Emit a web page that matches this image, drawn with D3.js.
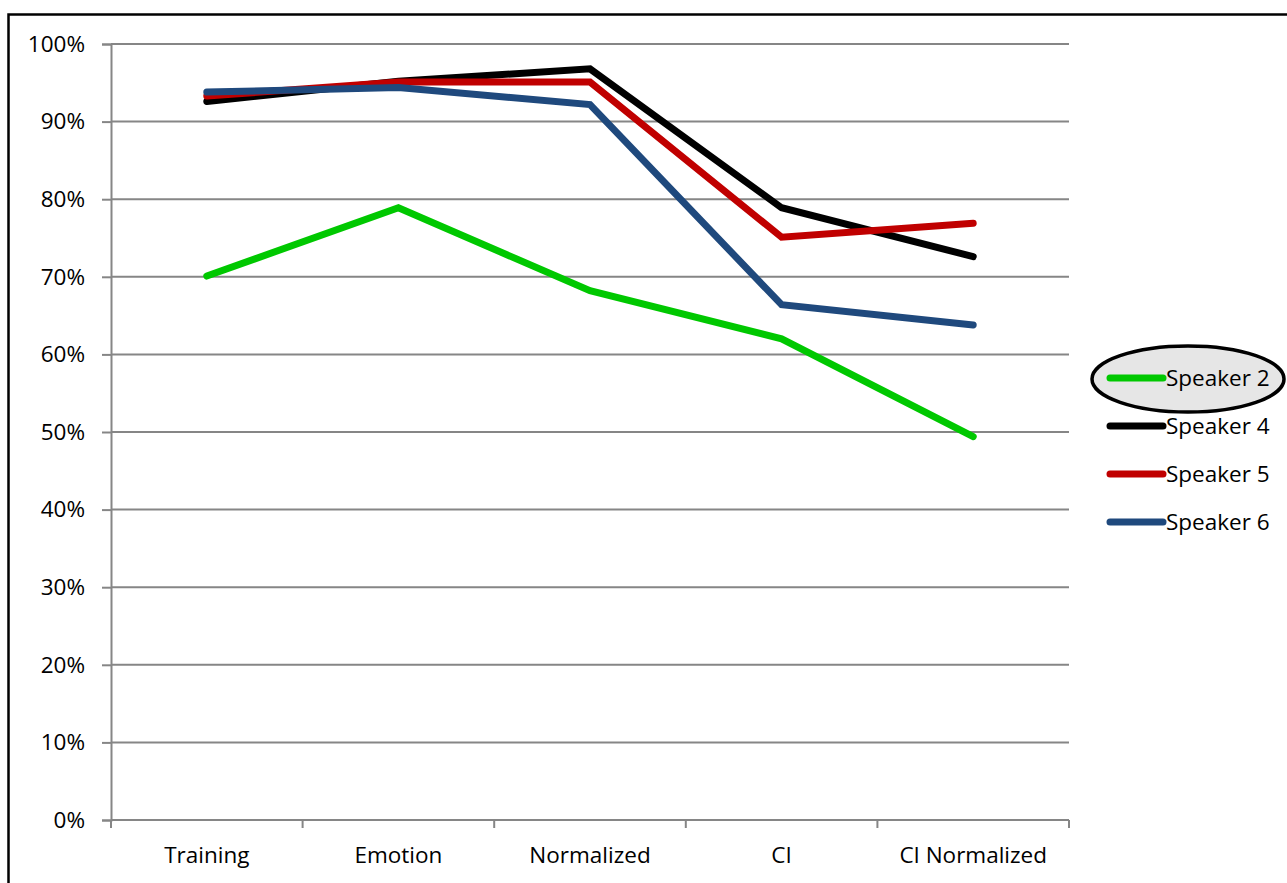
<!DOCTYPE html>
<html>
<head>
<meta charset="utf-8">
<script src="https://cdn.jsdelivr.net/npm/d3@7"></script>
<style>
  html, body { margin: 0; padding: 0; background: #fff; overflow: hidden; }
  svg { display: block; font-family: "Open Sans", Lato, sans-serif; }
</style>
</head>
<body>
<svg id="chart" width="1287" height="883"></svg>
<script>
// Recognition accuracy per condition, one series per speaker
const categories = ["Training", "Emotion", "Normalized", "CI", "CI Normalized"];
const speaker2 = [0.701, 0.789, 0.682, 0.620, 0.494];
const speaker4 = [0.926, 0.952, 0.968, 0.789, 0.726];
const speaker5 = [0.933, 0.951, 0.951, 0.751, 0.769];
const speaker6 = [0.938, 0.944, 0.922, 0.664, 0.638];
const seriesNames = ["Speaker 2", "Speaker 4", "Speaker 5", "Speaker 6"];
const seriesColors = ["#00c800", "#000000", "#c00000", "#1f497d"];
const yTicks = [0, 0.1, 0.2, 0.3, 0.4, 0.5, 0.6, 0.7, 0.8, 0.9, 1.0];

const series = [speaker2, speaker4, speaker5, speaker6].map((vals, i) => ({
  name: seriesNames[i], color: seriesColors[i], values: vals
}));

const svg = d3.select("#chart");
const fontFam = "'Open Sans', Lato, sans-serif";
const fontSize = "22.5px";

// Outer frame
svg.append("rect")
  .attr("x", 8.5).attr("y", 14.5)
  .attr("width", 1300).attr("height", 900)
  .attr("fill", "#fff").attr("stroke", "#000").attr("stroke-width", 2.5);

const plot = { left: 111, right: 1069, top: 44, bottom: 820 };

const x = d3.scaleBand().domain(categories).range([plot.left, plot.right]).padding(0);
const y = d3.scaleLinear().domain([0, 1]).range([plot.bottom, plot.top]);

const grid = "#868686";

// Horizontal gridlines
svg.append("g").selectAll("line").data(yTicks.slice(1)).join("line")
  .attr("x1", plot.left).attr("x2", plot.right)
  .attr("y1", d => y(d)).attr("y2", d => y(d))
  .attr("stroke", grid).attr("stroke-width", 2);

// Y axis
const yAxis = svg.append("g")
  .attr("transform", `translate(${plot.left},0)`)
  .call(d3.axisLeft(y).tickValues(yTicks).tickFormat(d3.format(".0%")).tickSize(9).tickPadding(17));
yAxis.select(".domain").attr("stroke", grid).attr("stroke-width", 2);
yAxis.selectAll(".tick line").attr("stroke", grid).attr("stroke-width", 2);
yAxis.selectAll("text").attr("fill", "#000").style("font-size", fontSize)
  .style("font-family", fontFam);

// X axis: ticks at category boundaries
const bounds = categories.map(c => x(c)).concat([plot.right]);
const xAxis = svg.append("g").attr("transform", `translate(0,${plot.bottom})`);
xAxis.append("line").attr("x1", plot.left).attr("x2", plot.right)
  .attr("stroke", grid).attr("stroke-width", 2);
xAxis.selectAll("line.tk").data(bounds).join("line").attr("class", "tk")
  .attr("x1", d => d).attr("x2", d => d).attr("y1", 0).attr("y2", 8)
  .attr("stroke", grid).attr("stroke-width", 2);
xAxis.selectAll("text").data(categories).join("text")
  .attr("x", d => x(d) + x.bandwidth() / 2).attr("y", 43)
  .attr("text-anchor", "middle").attr("fill", "#000")
  .style("font-size", fontSize).style("font-family", fontFam).text(d => d);

// Series lines
const line = d3.line()
  .x((d, i) => x(categories[i]) + x.bandwidth() / 2)
  .y(d => y(d));

svg.append("g").selectAll("path").data(series).join("path")
  .attr("d", d => line(d.values))
  .attr("fill", "none").attr("stroke", d => d.color)
  .attr("stroke-width", 7).attr("stroke-linecap", "round").attr("stroke-linejoin", "miter");

// Legend, with the first entry ringed
const legend = svg.append("g");
legend.append("ellipse")
  .attr("cx", 1188).attr("cy", 379).attr("rx", 96).attr("ry", 33)
  .attr("fill", "#e6e6e6").attr("stroke", "#000").attr("stroke-width", 3.5);
const rows = legend.selectAll("g.row").data(series).join("g").attr("class", "row")
  .attr("transform", (d, i) => `translate(0,${378 + i * 48})`);
rows.append("line").attr("x1", 1110).attr("x2", 1163).attr("y1", 0).attr("y2", 0)
  .attr("stroke", d => d.color).attr("stroke-width", 7).attr("stroke-linecap", "round");
rows.append("text").attr("x", 1166).attr("y", 0).attr("dy", "0.35em")
  .attr("fill", "#000").style("font-size", fontSize).style("font-family", fontFam).text(d => d.name);
</script>
</body>
</html>
